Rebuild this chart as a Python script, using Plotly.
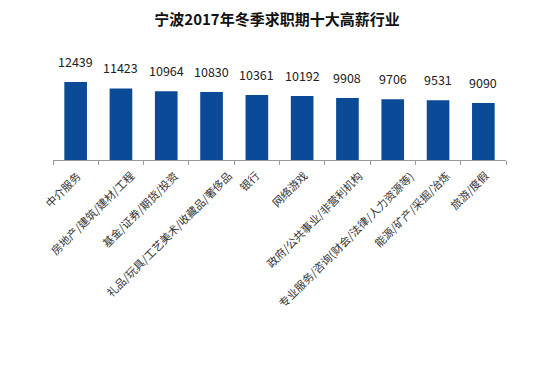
import plotly.graph_objects as go

categories = ["中介服务", "房地产/建筑/建材/工程", "基金/证券/期货/投资", "礼品/玩具/工艺美术/收藏品/奢侈品",
              "银行", "网络游戏", "政府/公共事业/非营利机构", "专业服务/咨询(财会/法律/人力资源等)",
              "能源/矿产/采掘/冶炼", "旅游/度假"]
values = [12439, 11423, 10964, 10830, 10361, 10192, 9908, 9706, 9531, 9090]
title = "宁波2017年冬季求职期十大高薪行业"

font = "Microsoft YaHei, Noto Sans CJK SC, sans-serif"
label_size = 11

# page body has an 8px default margin, so the figure is sized/offset to fit the 554x378 window
W, H = 538, 362


def text_width(s, fs):
    w = 0.0
    for ch in s:
        w += fs if ord(ch) > 0x2E80 else 0.4 * fs
    return w


fig = go.Figure(go.Bar(
    x=categories, y=values, width=0.5,
    marker=dict(color="#0A4A96", line=dict(width=0)),
    cliponaxis=False,
))
for c, v in zip(categories, values):
    fig.add_annotation(x=c, y=v, text=str(v), showarrow=False, yanchor="bottom", yshift=9,
                       font=dict(family=font, size=12.5, color="#222"))
# rotated category labels, placed the way the spreadsheet engine places them
for c in categories:
    L = text_width(c, label_size)
    fig.add_annotation(x=c, xref="x", y=0, yref="paper", text=c, showarrow=False,
                       textangle=-45, xanchor="center", yanchor="middle",
                       xshift=-0.234 * L - 3, yshift=-(13 + 0.354 * L),
                       font=dict(family=font, size=label_size, color="#333"))
fig.update_layout(
    width=W, height=H,
    margin=dict(l=45, r=40, t=52, b=H - 152, autoexpand=False),
    paper_bgcolor="white", plot_bgcolor="white",
    title=dict(text="<b>" + title + "</b>", x=0.5, xanchor="center", xref="container",
               y=1 - 12 / H, yref="container", yanchor="middle",
               font=dict(family=font, size=15, color="#111")),
    showlegend=False,
)
fig.update_xaxes(
    type="category", range=[-0.5, len(categories) - 0.5], autorange=False,
    tickson="boundaries", ticks="outside", ticklen=4,
    tickcolor="#999", showline=True, linecolor="#999", linewidth=1, showgrid=False,
    showticklabels=False, automargin=False,
)
fig.update_yaxes(range=[0, 15950], autorange=False, visible=False, showgrid=False, automargin=False)
fig.write_html("out.html")
